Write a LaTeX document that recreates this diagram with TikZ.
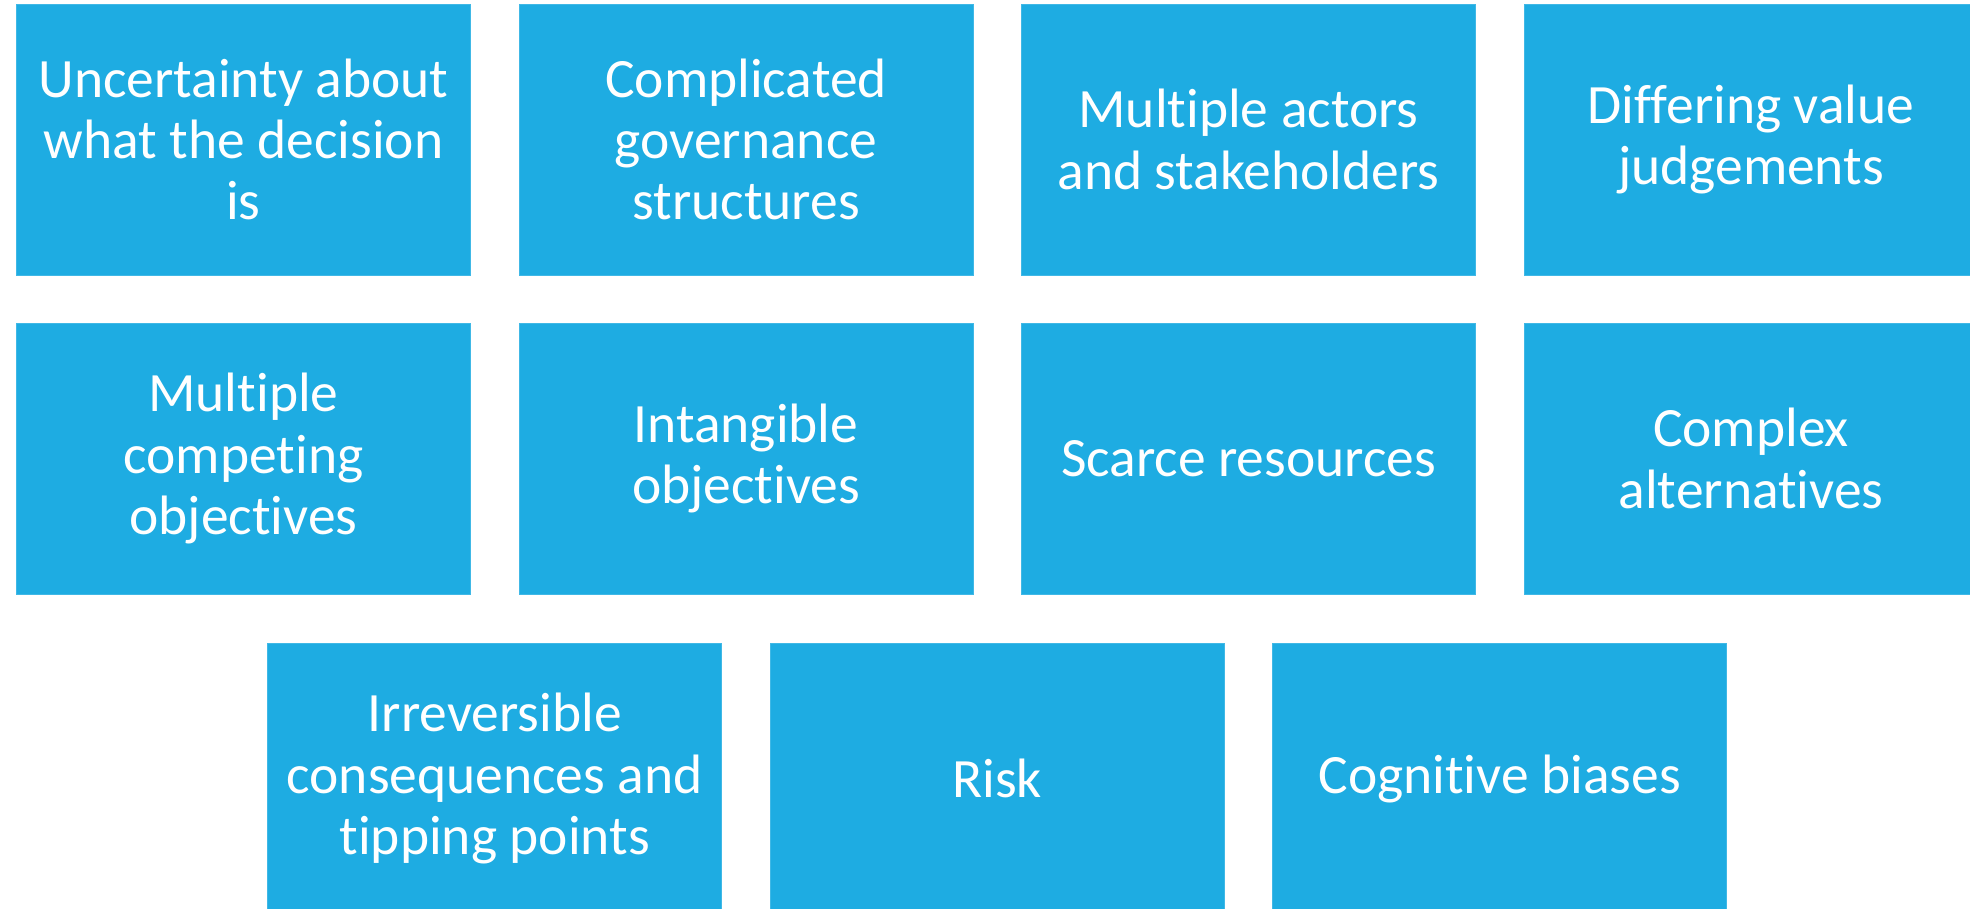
\documentclass[tikz,border=0pt]{standalone}
\usepackage{fontspec}
\setmainfont{Carlito}[Ligatures={NoCommon}]
\usepackage{tikz}
\usetikzlibrary{positioning}

\definecolor{tileblue}{RGB}{30,172,226}

\begin{document}
\begin{tikzpicture}[
    x=0.5pt, y=-0.5pt,
    issue/.style={rectangle, fill=tileblue, draw=tileblue!85!white, line width=0.4pt,
                  minimum width=227pt, minimum height=135.5pt, inner sep=0pt,
                  align=center, text=white,
                  font=\fontsize{27.75pt}{30.65pt}\selectfont}
]
\clip (0,0) rectangle (1970,909);

% First row
\node[issue] (uncert) at (243.5, 139.5) {Uncertainty about\\what the decision\\is};
\node[issue] (govern) at (746, 139.5) {Complicated\\governance\\structures};
\node[issue] (actors) at (1248.5, 139.5) {Multiple actors\\and stakeholders};
\node[issue] (values) at (1751, 139.5) {Differing value\\judgements};

% Second row
\node[issue] (compete) at (243.5, 458.5) {Multiple\\competing\\objectives};
\node[issue] (intangible) at (746, 458.5) {Intangible\\objectives};
\node[issue] (scarce) at (1248.5, 458.5) {Scarce resources};
\node[issue] (altern) at (1751, 458.5) {Complex\\alternatives};

% Third row, shifted by half a column
\node[issue] (irrev) at (494.75, 778.5) {Irreversible\\consequences and\\tipping points};
\node[issue] (risk) at (997.25, 778.5) {Risk};
\node[issue] (biases) at (1499.75, 778.5) {Cognitive biases};
\end{tikzpicture}
\end{document}
